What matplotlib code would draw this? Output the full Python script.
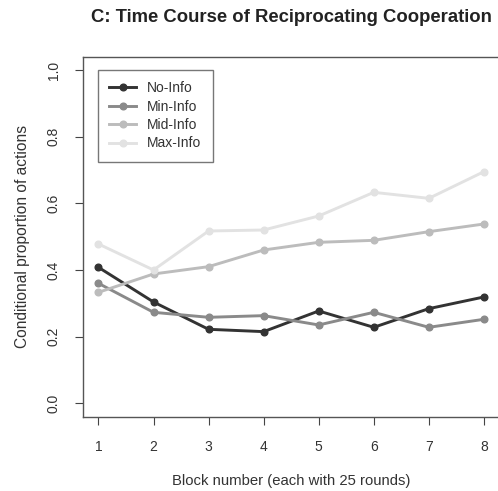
import matplotlib.pyplot as plt

plt.rcParams['font.family'] = ['Liberation Sans', 'DejaVu Sans']

blocks = [1, 2, 3, 4, 5, 6, 7, 8]
no_info = [0.408, 0.304, 0.222, 0.215, 0.277, 0.228, 0.284, 0.319]
min_info = [0.360, 0.273, 0.258, 0.263, 0.235, 0.273, 0.228, 0.252]
mid_info = [0.333, 0.388, 0.410, 0.460, 0.483, 0.489, 0.515, 0.538]
max_info = [0.478, 0.400, 0.517, 0.520, 0.562, 0.633, 0.615, 0.695]

series_names = ['No-Info', 'Min-Info', 'Mid-Info', 'Max-Info']
series_colors = ['#333333', '#8a8a8a', '#bcbcbc', '#e2e2e2']
y_ticks = [0.0, 0.2, 0.4, 0.6, 0.8, 1.0]

fig = plt.figure(figsize=(4.98, 4.91), dpi=100)
ax = fig.add_axes([0.1667, 0.1515, 0.836, 0.733])

for vals, name, col in zip([no_info, min_info, mid_info, max_info], series_names, series_colors):
    ax.plot(blocks, vals, color=col, lw=2.1, marker='o', ms=4.8, label=name)

ax.set_xlim(0.72, 8.28)
ax.set_ylim(-0.04, 1.04)
ax.set_xticks(blocks)
ax.set_yticks(y_ticks)
ax.set_yticklabels(['%.1f' % v for v in y_ticks], rotation=90, va='center')
ax.tick_params(direction='out', length=6, width=0.8, colors='#444444',
               labelcolor='#333333', labelsize=10)
ax.tick_params(axis='x', pad=11)
ax.tick_params(axis='y', pad=10)

for sp in ax.spines.values():
    sp.set_color('#555555')
    sp.set_linewidth(1.0)

ax.set_xlabel('Block number (each with 25 rounds)', fontsize=10.7, color='#333333', labelpad=14)
ax.set_ylabel('Conditional proportion of actions', fontsize=11.2, color='#333333', labelpad=12)
fig.text(0.585, 0.965, 'C: Time Course of Reciprocating Cooperation', ha='center', va='center',
         fontsize=13.3, fontweight='bold', color='#222222')

leg = ax.legend(loc='upper left', bbox_to_anchor=(0.036, 0.963), fancybox=False,
                edgecolor='#555555', fontsize=10, handlelength=1.95, borderpad=0.8,
                labelspacing=0.32, handletextpad=0.8, borderaxespad=0)
leg.get_frame().set_linewidth(1.0)
for t in leg.get_texts():
    t.set_color('#333333')

fig.savefig('out.png', dpi=100)
